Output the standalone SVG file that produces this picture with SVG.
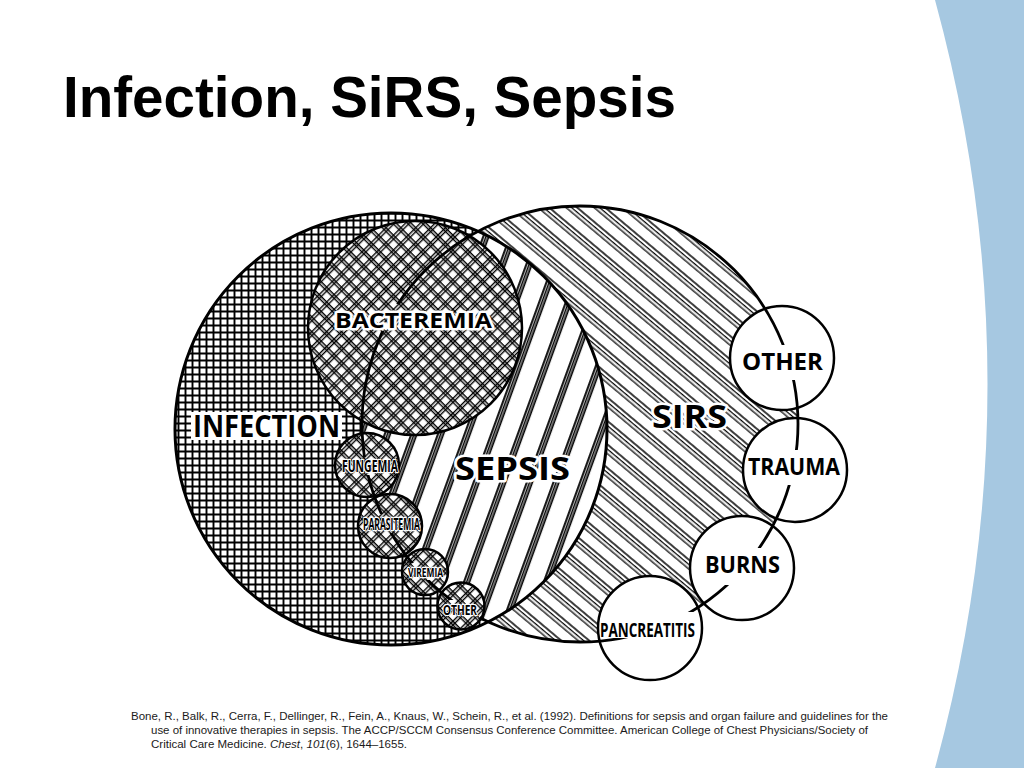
<svg xmlns="http://www.w3.org/2000/svg" width="1024" height="768" viewBox="0 0 1024 768">
<style>
.title{font-family:"Liberation Sans",Arial,sans-serif;font-weight:bold;font-size:58px;fill:#000}
.cite{font-family:"Liberation Sans",Arial,sans-serif;font-size:11px;fill:#1a1a1a}
.lbl{font-family:"Open Sans","DejaVu Sans",sans-serif;font-weight:bold;fill:#000;stroke:#fff;stroke-linejoin:round;paint-order:stroke}
.big{stroke-width:5px}
.sm{stroke-width:2.5px}
.ring{fill:none;stroke:#000;stroke-width:3}
.ring2{stroke:#000;stroke-width:2.5}
</style>
<defs>
<pattern id="grid" width="7" height="7" patternUnits="userSpaceOnUse">
<rect width="7" height="7" fill="#fff"/>
<path d="M0,3.5H7M3.5,0V7" stroke="#000" stroke-width="1.9"/>
</pattern>
<pattern id="hatch" width="18" height="18" patternUnits="userSpaceOnUse" patternTransform="rotate(40)">
<rect width="18" height="18" fill="#fff"/>
<path d="M0,4H18M0,7.6H18M0,11.2H18" stroke="#000" stroke-width="1.3"/>
</pattern>
<pattern id="stripes" width="25" height="25" patternUnits="userSpaceOnUse" patternTransform="rotate(20)">
<rect width="25" height="25" fill="#fff"/>
<path d="M10,0V25M12.6,0V25M15.2,0V25" stroke="#000" stroke-width="1.8"/>
</pattern>
<pattern id="xhatch" width="10.5" height="10.5" patternUnits="userSpaceOnUse" patternTransform="rotate(45)">
<rect width="10.5" height="10.5" fill="#fff"/>
<path d="M0,3.5H10.5M0,6.3H10.5M3.5,0V10.5M6.3,0V10.5" stroke="#000" stroke-width="1.4"/>
</pattern>
<clipPath id="sirsClip"><circle cx="580" cy="424" r="218"/></clipPath>
<mask id="cut" maskUnits="userSpaceOnUse" x="0" y="0" width="1024" height="768">
<rect width="1024" height="768" fill="#fff"/>
<rect x="333" y="304" width="162" height="27" fill="#000"/>
<rect x="340" y="457" width="61" height="18" fill="#000"/>
<rect x="361" y="514" width="62" height="19" fill="#000"/>
<rect x="406" y="563" width="40" height="17" fill="#000"/>
<rect x="441" y="600" width="39" height="18" fill="#000"/>
<rect x="738" y="345" width="90" height="35" fill="#000"/>
<rect x="744" y="450" width="100" height="35" fill="#000"/>
<rect x="702" y="548" width="82" height="37" fill="#000"/>
<rect x="598" y="612" width="100" height="26" fill="#000"/>
</mask>
</defs>
<rect width="1024" height="768" fill="#fff"/>
<path d="M935,0 Q1040,384 935,768 L1024,768 L1024,0 Z" fill="#a6c8e1"/>
<text class="title" x="63" y="117" textLength="613" lengthAdjust="spacingAndGlyphs">Infection, SiRS, Sepsis</text>

<g id="infection">
<circle cx="391" cy="429" r="216" fill="url(#grid)"/>
</g>
<g id="sirs">
<circle cx="580" cy="424" r="218" fill="url(#hatch)"/>
</g>
<g id="sepsis">
<circle cx="391" cy="429" r="216" fill="url(#stripes)" clip-path="url(#sirsClip)"/>
<circle cx="391" cy="429" r="216" class="ring"/>
</g>
<g id="bacteremia">
<circle cx="415" cy="328" r="107" fill="url(#xhatch)" class="ring2" stroke-width="3"/>
</g>
<g id="fungemia">
<circle cx="367" cy="465" r="32" fill="url(#xhatch)" class="ring2"/>
</g>
<g id="parasitemia">
<circle cx="390" cy="526" r="32" fill="url(#xhatch)" class="ring2"/>
</g>
<g id="viremia">
<circle cx="425" cy="572" r="23" fill="url(#xhatch)" class="ring2"/>
</g>
<g id="other-infection">
<circle cx="461" cy="606" r="23.5" fill="url(#xhatch)" class="ring2"/>
</g>
<g id="other-sirs">
<circle cx="782" cy="358" r="52" fill="#fff" class="ring2" stroke-width="3"/>
</g>
<g id="trauma">
<circle cx="795" cy="470" r="52" fill="#fff" class="ring2" stroke-width="3"/>
</g>
<g id="burns">
<circle cx="742" cy="568" r="52" fill="#fff" class="ring2" stroke-width="3"/>
</g>
<g id="pancreatitis">
<circle cx="650" cy="628" r="52" fill="#fff" class="ring2" stroke-width="3"/>
</g>

<g id="connectors">
<circle cx="580" cy="424" r="218" fill="none" stroke="#000" stroke-width="2.8" mask="url(#cut)"/>
</g>

<g id="labels">
<rect x="191" y="412" width="151" height="28" fill="#fff"/>
<text class="lbl" x="193" y="437" font-size="30" textLength="147" lengthAdjust="spacingAndGlyphs" stroke-width="0">INFECTION</text>
<text class="lbl big" x="335" y="328" font-size="22" textLength="157" lengthAdjust="spacingAndGlyphs">BACTEREMIA</text>
<text class="lbl big" x="455" y="480" font-size="32" textLength="115" lengthAdjust="spacingAndGlyphs">SEPSIS</text>
<text class="lbl big" x="652" y="428" font-size="32" textLength="75" lengthAdjust="spacingAndGlyphs">SIRS</text>
<text class="lbl sm" x="342" y="472" font-size="16" textLength="56" lengthAdjust="spacingAndGlyphs">FUNGEMIA</text>
<text class="lbl sm" x="363" y="530" font-size="16" textLength="57" lengthAdjust="spacingAndGlyphs">PARASITEMIA</text>
<text class="lbl sm" x="408" y="577" font-size="13" textLength="35" lengthAdjust="spacingAndGlyphs">VIREMIA</text>
<text class="lbl sm" x="443" y="615" font-size="15" textLength="34" lengthAdjust="spacingAndGlyphs">OTHER</text>
<text class="lbl" x="742" y="370" font-size="24" textLength="81" lengthAdjust="spacingAndGlyphs" stroke-width="0">OTHER</text>
<text class="lbl" x="748" y="475" font-size="24" textLength="92" lengthAdjust="spacingAndGlyphs" stroke-width="0">TRAUMA</text>
<text class="lbl" x="705" y="573" font-size="23" textLength="75" lengthAdjust="spacingAndGlyphs" stroke-width="0">BURNS</text>
<text class="lbl" x="600" y="637" font-size="20" textLength="95" lengthAdjust="spacingAndGlyphs" stroke-width="0">PANCREATITIS</text>
</g>

<text class="cite" x="131" y="720" textLength="757" lengthAdjust="spacingAndGlyphs">Bone, R., Balk, R., Cerra, F., Dellinger, R., Fein, A., Knaus, W., Schein, R., et al. (1992). Definitions for sepsis and organ failure and guidelines for the</text>
<text class="cite" x="151" y="734" textLength="717" lengthAdjust="spacingAndGlyphs">use of innovative therapies in sepsis. The ACCP/SCCM Consensus Conference Committee. American College of Chest Physicians/Society of</text>
<text class="cite" x="151" y="748" textLength="256" lengthAdjust="spacingAndGlyphs">Critical Care Medicine. <tspan font-style="italic">Chest</tspan>, <tspan font-style="italic">101</tspan>(6), 1644–1655.</text>
</svg>
